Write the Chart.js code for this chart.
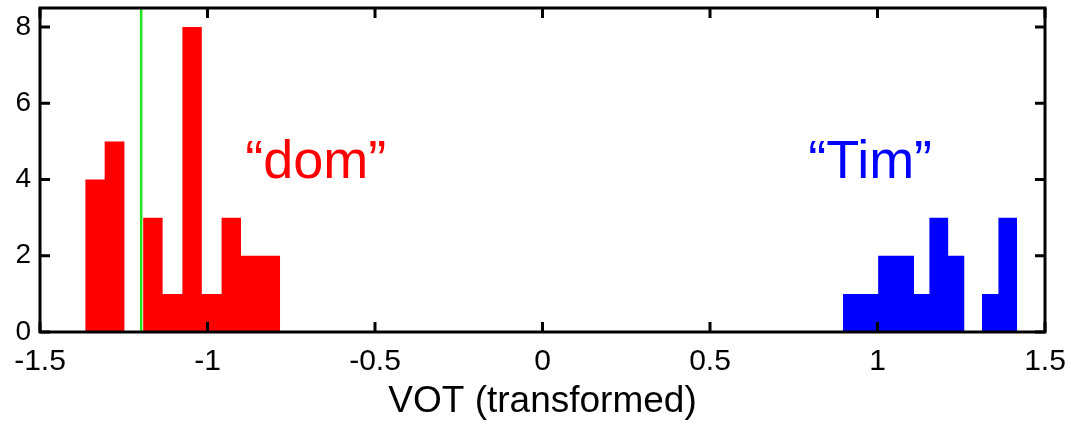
<!DOCTYPE html>
<html>
<head>
<meta charset="utf-8">
<script src="https://cdn.jsdelivr.net/npm/chart.js@4/dist/chart.umd.min.js"></script>
<style>
  body { margin: 0; background: #fff; }
  canvas { display: block; }
</style>
</head>
<body>
<canvas id="histChart" width="1071" height="425"></canvas>
<script>
// left edges of each bin, last entry is the right edge of the last bin
const domEdges = [-1.365, -1.307, -1.248, -1.192, -1.134, -1.075, -1.017, -0.958, -0.900, -0.842, -0.783];
const domCounts = [4, 5, 0, 3, 1, 8, 1, 3, 2, 2];
const timEdges = [0.897, 0.949, 1.002, 1.055, 1.109, 1.155, 1.211, 1.259, 1.312, 1.361, 1.417];
const timCounts = [1, 1, 2, 2, 1, 3, 2, 0, 1, 3];
const boundary = -1.198;
const xTicks = [-1.5, -1, -0.5, 0, 0.5, 1, 1.5];
const yTicks = [0, 2, 4, 6, 8];

const FONT = "'Liberation Sans', Arial, sans-serif";

function histPoints(edges, counts) {
  const pts = counts.map((c, i) => ({ x: edges[i], y: c }));
  pts.push({ x: edges[edges.length - 1], y: 0 });
  return pts;
}

const framePlugin = {
  id: 'frame',
  afterDatasetsDraw(chart) {
    const { ctx, chartArea: a, scales: { x, y } } = chart;
    ctx.save();
    ctx.strokeStyle = '#000';
    ctx.lineWidth = 3;
    ctx.strokeRect(a.left, a.top, a.right - a.left, a.bottom - a.top);
    ctx.beginPath();
    xTicks.forEach(v => {
      const px = x.getPixelForValue(v);
      ctx.moveTo(px, a.bottom); ctx.lineTo(px, a.bottom - 10);
      ctx.moveTo(px, a.top); ctx.lineTo(px, a.top + 10);
    });
    yTicks.forEach(v => {
      const py = y.getPixelForValue(v);
      ctx.moveTo(a.left, py); ctx.lineTo(a.left + 10, py);
      ctx.moveTo(a.right, py); ctx.lineTo(a.right - 10, py);
    });
    ctx.stroke();

    ctx.font = '54px ' + FONT;
    ctx.textAlign = 'center';
    ctx.textBaseline = 'alphabetic';
    ctx.fillStyle = '#ff0000';
    ctx.fillText('\u201cdom\u201d', x.getPixelForValue(-0.677), y.getPixelForValue(4.05));
    ctx.fillStyle = '#0000ff';
    ctx.fillText('\u201cTim\u201d', x.getPixelForValue(0.978), y.getPixelForValue(4.05));
    ctx.restore();
  }
};

new Chart(document.getElementById('histChart').getContext('2d'), {
  type: 'line',
  data: {
    datasets: [
      {
        label: 'boundary',
        data: [{ x: boundary, y: 0 }, { x: boundary, y: 8.5 }],
        borderColor: 'rgb(30,230,30)',
        borderWidth: 2.5,
        pointRadius: 0,
        fill: false
      },
      {
        label: 'dom',
        data: histPoints(domEdges, domCounts),
        stepped: 'before',
        borderColor: 'rgba(0,0,0,0)',
        backgroundColor: '#ff0000',
        pointRadius: 0,
        fill: 'origin'
      },
      {
        label: 'Tim',
        data: histPoints(timEdges, timCounts),
        stepped: 'before',
        borderColor: 'rgba(0,0,0,0)',
        backgroundColor: '#0000ff',
        pointRadius: 0,
        fill: 'origin'
      }
    ]
  },
  options: {
    responsive: false,
    animation: false,
    devicePixelRatio: 1,
    layout: { padding: { top: 8, right: 26, left: 0, bottom: 0 } },
    plugins: { legend: { display: false }, tooltip: { enabled: false } },
    scales: {
      x: {
        type: 'linear',
        min: -1.5,
        max: 1.5,
        grid: { display: false, drawTicks: false },
        border: { display: false },
        afterBuildTicks: s => { s.ticks = xTicks.map(v => ({ value: v })); },
        afterFit: s => {
          s.height = 93;
          s.paddingLeft = 0;
          s.paddingRight = 0;
        },
        ticks: {
          color: '#000',
          font: { family: FONT, size: 30 },
          padding: 12,
          maxRotation: 0,
          autoSkip: false,
          callback: v => String(v)
        },
        title: {
          display: true,
          text: 'VOT (transformed)',
          color: '#000',
          font: { family: FONT, size: 37 },
          padding: { top: 0, bottom: 1 }
        }
      },
      y: {
        min: 0,
        max: 8.5,
        grid: { display: false, drawTicks: false },
        border: { display: false },
        afterBuildTicks: s => { s.ticks = yTicks.map(v => ({ value: v })); },
        afterFit: s => {
          s.width = 40;
          s.paddingTop = 0;
          s.paddingBottom = 0;
        },
        ticks: {
          color: '#000',
          font: { family: FONT, size: 28 },
          padding: 9,
          callback: v => String(v)
        }
      }
    }
  },
  plugins: [framePlugin]
});
</script>
</body>
</html>
